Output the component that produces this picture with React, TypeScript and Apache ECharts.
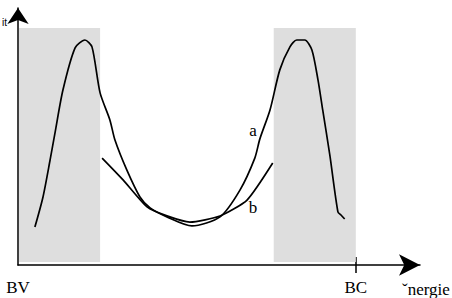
import React, { useEffect, useRef } from "react";
import * as echarts from "echarts";

// energy (x) vs intensity (y)
const curveA: [number, number][] = [
  [0.5, 16.0], [0.74, 28.7], [0.95, 44.3], [1.09, 55.3], [1.33, 73.8],
  [1.69, 91.6], [1.98, 94.9], [2.19, 92.0], [2.43, 72.6], [2.72, 61.2],
  [2.87, 52.7], [3.22, 40.1], [3.61, 28.7], [3.91, 24.1], [4.41, 20.3],
  [5.15, 16.5], [5.98, 20.3], [6.57, 31.6], [7.01, 45.1], [7.16, 53.2],
  [7.46, 65.4], [7.75, 82.3], [8.05, 92.0], [8.25, 94.9], [8.49, 94.9],
  [8.7, 90.7], [8.88, 78.1], [9.02, 65.4], [9.23, 46.4], [9.47, 22.4],
  [9.56, 21.1], [9.67, 19.4],
];
const curveB: [number, number][] = [
  [2.49, 45.1], [3.11, 35.9], [3.82, 24.5], [4.41, 20.7], [5.09, 18.1],
  [5.98, 20.7], [6.78, 27.4], [7.54, 43.0],
];
const bands: [number, number][] = [[0.03, 2.43], [7.57, 10]];
const bandYRange: [number, number] = [1.3, 100];
const xTickLabels: Record<number, string> = { 0: "BV", 10: "BC" };
const xLabelValues = [0, 10];
const xTickValues = [10];
const xMax = 11.9;
const yMax = 108.4;

export default function App() {
  const ref = useRef<HTMLDivElement>(null);
  useEffect(() => {
    const chart = echarts.init(ref.current!, null, { renderer: "svg" });
    const serif = "'Liberation Serif', 'Times New Roman', serif";
    chart.setOption({
      animation: false,
      grid: { left: 18, right: 32, top: 8, bottom: 33, containLabel: false },
      xAxis: [
        {
          type: "value",
          min: 0,
          max: xMax,
          interval: 10,
          axisLine: {
            show: true,
            lineStyle: { color: "#000", width: 1.5 },
            symbol: ["none", "arrow"],
            symbolSize: [16, 21],
          },
          axisTick: {
            show: true,
            length: 8,
            lineStyle: { color: "#000", width: 1.5 },
            customValues: xTickValues,
          },
          axisLabel: {
            show: true,
            customValues: xLabelValues,
            formatter: (v: number) => xTickLabels[v] ?? "",
            color: "#000",
            fontFamily: serif,
            fontSize: 17,
            margin: 14,
          },
          splitLine: { show: false },
        },
        {
          type: "value",
          gridIndex: 0,
          position: "bottom",
          min: 0,
          max: xMax,
          interval: 10,
          axisLine: { show: false },
          axisTick: {
            show: true,
            inside: true,
            length: 8,
            lineStyle: { color: "#000", width: 1.5 },
            customValues: xTickValues,
          },
          axisLabel: { show: false },
          splitLine: { show: false },
        },
      ],
      yAxis: {
        type: "value",
        min: 0,
        max: yMax,
        axisLine: {
          show: true,
          lineStyle: { color: "#000", width: 1.5 },
          symbol: ["none", "arrow"],
          symbolSize: [16, 16],
        },
        axisTick: { show: false },
        axisLabel: { show: false },
        splitLine: { show: false },
      },
      series: [
        {
          type: "line",
          name: "a",
          data: curveA,
          smooth: 0.25,
          symbol: "none",
          lineStyle: { color: "#000", width: 1.7 },
          markArea: {
            silent: true,
            itemStyle: { color: "#dedede" },
            data: bands.map(([x0, x1]) => [
              { xAxis: x0, yAxis: bandYRange[0] },
              { xAxis: x1, yAxis: bandYRange[1] },
            ]),
          },
        },
        {
          type: "line",
          name: "b",
          data: curveB,
          smooth: 0.2,
          symbol: "none",
          lineStyle: { color: "#000", width: 1.7 },
        },
      ],
      graphic: [
        {
          type: "text",
          x: 7,
          y: 22,
          style: {
            text: "it",
            fontFamily: "'Liberation Sans', Arial, sans-serif",
            fontSize: 10,
            fill: "#000",
            align: "right",
            verticalAlign: "middle",
          },
        },
        {
          type: "text",
          x: 253,
          y: 130,
          style: { text: "a", fontFamily: serif, fontSize: 17, fill: "#000", align: "center", verticalAlign: "middle" },
        },
        {
          type: "text",
          x: 253,
          y: 207,
          style: { text: "b", fontFamily: serif, fontSize: 17, fill: "#000", align: "center", verticalAlign: "middle" },
        },
        {
          type: "text",
          x: 402,
          y: 289,
          style: { text: "ˇnergie", fontFamily: serif, fontSize: 17, fill: "#000", align: "left", verticalAlign: "middle" },
        },
      ],
    });
    return () => chart.dispose();
  }, []);
  return (
    <div
      ref={ref}
      style={{ position: "fixed", left: 0, top: 0, width: 452, height: 298, background: "#fff" }}
    />
  );
}
